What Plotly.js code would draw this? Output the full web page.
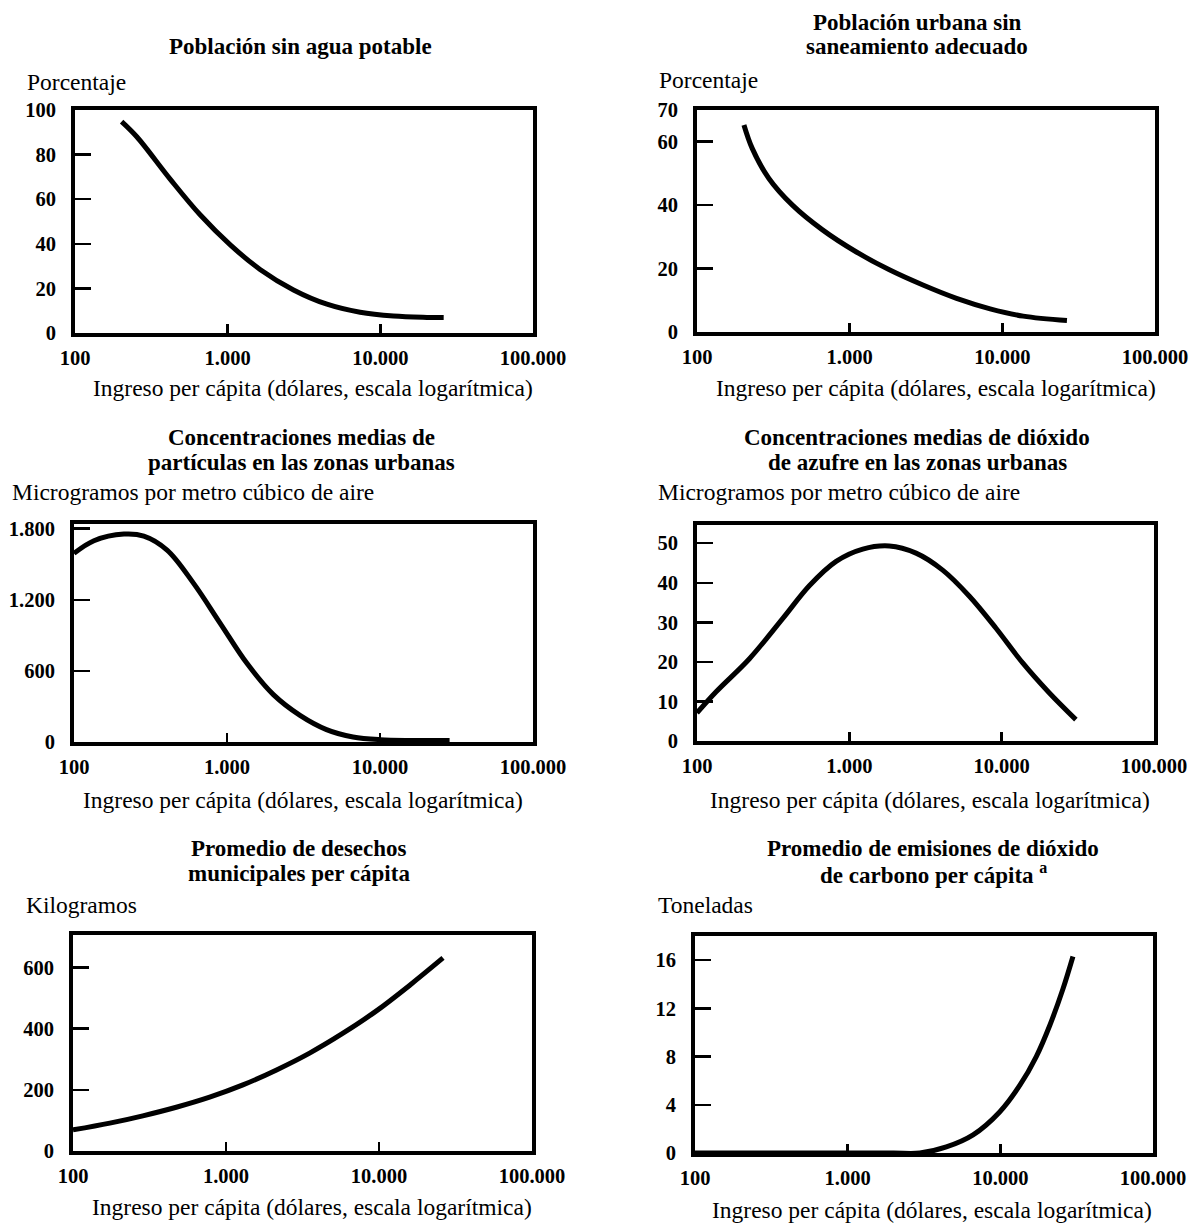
<!DOCTYPE html>
<html><head><meta charset="utf-8">
<script src="https://cdn.plot.ly/plotly-3.0.1.min.js"></script>
<style>body{margin:0;background:#fff}#c{width:1190px;height:1224px}</style>
</head><body><div id="c"></div>
<script>
// ---- data ----
const xTickVals = [100, 1000, 10000, 100000];
const xTickText = ["100", "1.000", "10.000", "100.000"];

const aguaX = [202, 254, 420, 660, 1040, 1630, 2700, 4470, 7370, 12200, 20200, 26000];
const aguaY = [94.8, 88, 69, 53, 39.5, 28.5, 19.3, 12.9, 9.3, 7.6, 7.0, 6.9];

const saneX = [203, 230, 295, 422, 664, 1100, 1820, 3020, 5010, 8320, 13700, 26500];
const saneY = [65.3, 57.9, 48.5, 40, 32.2, 25.3, 19.6, 14.8, 10.6, 7.3, 5.0, 3.6];

const partX = [100, 135, 212, 286, 406, 605, 903, 1350, 2010, 3000, 4470, 6660, 10000, 28500];
const partY = [1592, 1699, 1755, 1738, 1620, 1339, 1002, 664, 400, 225, 105, 42, 20, 12];

const so2X = [100, 134, 221, 366, 548, 819, 1225, 1830, 2740, 4100, 6140, 9180, 13700, 20500, 30700];
const so2Y = [7.1, 12.5, 20.8, 31, 39.3, 45.4, 48.5, 49.3, 47.5, 43.2, 36.6, 28.5, 19.8, 12.2, 5.4];

const desX = [100, 174, 286, 473, 782, 1290, 2140, 3520, 5820, 9620, 15900, 26200];
const desY = [69, 91, 115, 143, 176, 216, 265, 320, 385, 458, 542, 631];

const co2X = [100, 1000, 2000, 2970, 4430, 6630, 9900, 13400, 17200, 21100, 25700, 29900];
const co2Y = [0, 0, 0, 0, 0.5, 1.5, 3.4, 5.6, 8.0, 10.6, 13.6, 16.3];

const titles = [
  ["Población sin agua potable"],
  ["Población urbana sin", "saneamiento adecuado"],
  ["Concentraciones medias de", "partículas en las zonas urbanas"],
  ["Concentraciones medias de dióxido", "de azufre en las zonas urbanas"],
  ["Promedio de desechos", "municipales per cápita"],
  ["Promedio de emisiones de dióxido", "de carbono per cápita <sup>a</sup>"]
];
const units = ["Porcentaje", "Porcentaje", "Microgramos por metro cúbico de aire",
  "Microgramos por metro cúbico de aire", "Kilogramos", "Toneladas"];
const xTitle = "Ingreso per cápita (dólares, escala logarítmica)";

const yTicks = [[0,20,40,60,80,100],[0,20,40,60,70],[0,600,1200,1800],[0,10,20,30,40,50],[0,200,400,600],[0,4,8,12,16]];
const yTickText = [["0","20","40","60","80","100"],["0","20","40","60","70"],["0","600","1.200","1.800"],["0","10","20","30","40","50"],["0","200","400","600"],["0","4","8","12","16"]];
const yRanges = [[0,100],[0,70],[0,1840],[0,54.6],[0,706],[0,18]];

// ---- layout geometry (pixels) ----
const W = 1190, H = 1224;
const frames = [ // left, right, top, bottom
  [75, 533, 110, 333], [697, 1155, 110, 332],
  [74, 533, 524, 742], [697, 1154, 525, 741],
  [73, 532, 935, 1151], [695, 1153, 936, 1153]
];
const titlePos = [[300, [47]], [917, [22, 47]], [301, [437, 462]], [917, [437, 462]], [299, [848, 873]], [933, [848, 873]]];
const unitPos = [[25, 82], [657, 80], [10, 492], [656, 492], [24, 905], [656, 905]];
const xTitlePos = [[313, 388], [936, 388], [303, 800], [930, 800], [312, 1207], [932, 1210]];

const FONT = '"Liberation Serif", "Times New Roman", serif';
const px = v => v / W, py = v => 1 - v / H;

const xs = [aguaX, saneX, partX, so2X, desX, co2X];
const ys = [aguaY, saneY, partY, so2Y, desY, co2Y];

const data = [], annotations = [];
const layout = {
  width: W, height: H, margin: {l:0, r:0, t:0, b:0},
  paper_bgcolor: "#fff", plot_bgcolor: "#fff", showlegend: false,
  font: {family: FONT, color: "#000", size: 18}
};
for (let i = 0; i < 6; i++) {
  const n = i === 0 ? "" : String(i + 1);
  data.push({x: xs[i], y: ys[i], type: "scatter", mode: "lines",
    line: {color: "#000", width: 5, shape: "spline", smoothing: 1},
    xaxis: "x" + n, yaxis: "y" + n, hoverinfo: "skip", cliponaxis: true});
  const f = frames[i];
  layout["xaxis" + n] = {
    type: "log", range: [2, 5], domain: [px(f[0]), px(f[1])], anchor: "y" + n,
    tickvals: xTickVals, ticktext: xTickText, ticks: "inside", ticklen: 9, tickwidth: 2.5,
    tickcolor: "#000", showline: true, linewidth: 4, linecolor: "#000", mirror: true,
    showgrid: false, zeroline: false, fixedrange: true, ticklabelstandoff: 3,
    tickfont: {family: FONT, size: 20.5, color: "#000", weight: "bold"}
  };
  layout["yaxis" + n] = {
    range: yRanges[i], domain: [py(f[3]), py(f[2])], anchor: "x" + n,
    tickvals: yTicks[i], ticktext: yTickText[i], ticks: "inside", ticklen: 16, tickwidth: 2.5,
    tickcolor: "#000", showline: true, linewidth: 4, linecolor: "#000", mirror: true,
    showgrid: false, zeroline: false, fixedrange: true, ticklabelstandoff: 11,
    tickfont: {family: FONT, size: 20.5, color: "#000", weight: "bold"}
  };
  titles[i].forEach((t, k) => {
    annotations.push({text: "<b>" + t + "</b>", xref: "paper", yref: "paper",
      x: px(titlePos[i][0]), y: py(titlePos[i][1][k]), xanchor: "center", yanchor: "middle",
      showarrow: false, font: {family: FONT, size: 23, color: "#000"}});
  });
  annotations.push({text: units[i], xref: "paper", yref: "paper",
    x: px(unitPos[i][0]), y: py(unitPos[i][1]), xanchor: "left", yanchor: "middle",
    showarrow: false, font: {family: FONT, size: 23.5, color: "#000"}});
  annotations.push({text: xTitle, xref: "paper", yref: "paper",
    x: px(xTitlePos[i][0]), y: py(xTitlePos[i][1]), xanchor: "center", yanchor: "middle",
    showarrow: false, font: {family: FONT, size: 23.5, color: "#000"}});
}
layout.annotations = annotations;
Plotly.newPlot("c", data, layout, {staticPlot: true, displayModeBar: false});
</script>
</body></html>
